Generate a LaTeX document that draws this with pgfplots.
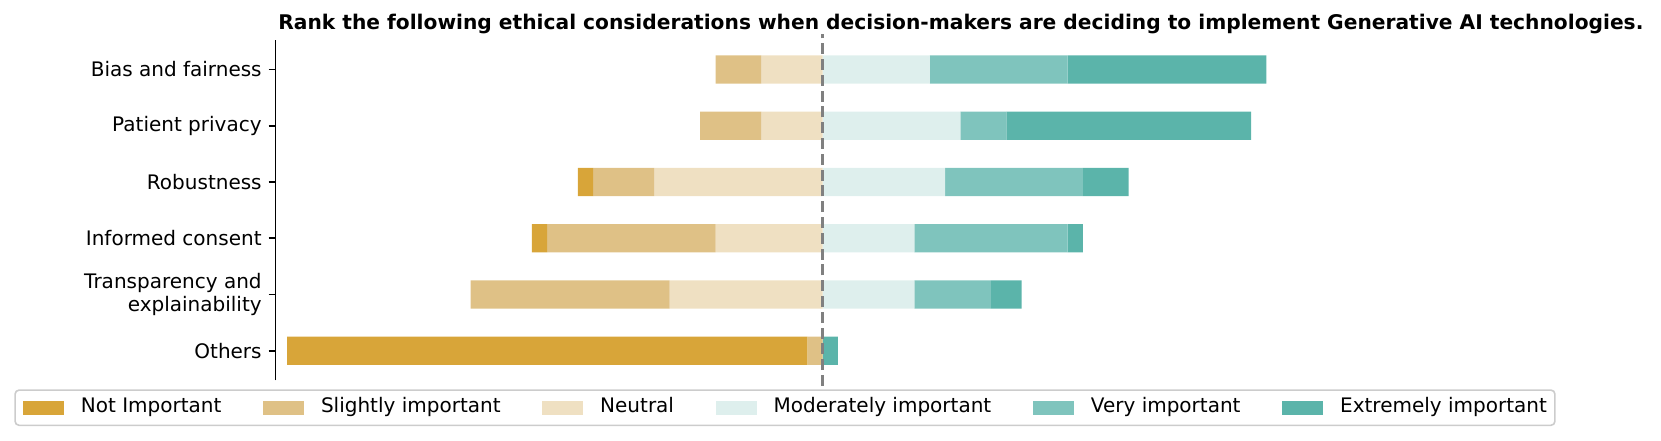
\documentclass[border=0pt]{standalone}
\usepackage{fontspec}
\setmainfont{DejaVu Sans}
\usepackage{pgfplots}
\pgfplotsset{compat=1.18}
\usepackage{pgfplotstable}

\definecolor{notimp}{HTML}{D8A539}
\definecolor{slight}{HTML}{DFC186}
\definecolor{neutral}{HTML}{EFE0C2}
\definecolor{moder}{HTML}{DEEFED}
\definecolor{veryimp}{HTML}{7FC4BD}
\definecolor{extrimp}{HTML}{5BB4AA}

% counts per answer (36 respondents); off = blank bar that centres the split at 35
\pgfplotstableread{
y off nimp slight neutral moder very extr
5 28 0  3  4 7  9 13
4 27 0  4  4 9  3 16
3 19 1  4 11 8  9  3
2 16 1 11  7 6 10  1
1 12 0 13 10 6  5  2
0  0 34 1  0 0  0  1
}\likert

\begin{document}
\begin{tikzpicture}
\useasboundingbox (-137.85pt,-29.85pt) rectangle (692.65pt,190.15pt);
\begin{axis}[
    at={(0,0)}, anchor=south west,
    scale only axis, width=685.15pt, height=170.2pt,
    xbar stacked, bar width=0.5,
    xmin=-0.74, xmax=88.8, ymin=-0.525, ymax=5.525,
    hide x axis,
    axis y line*=left,
    y axis line style={-, line width=0.8pt},
    ytick={0,...,5},
    yticklabels={Others,{Transparency and\\explainability},Informed consent,Robustness,Patient privacy,Bias and fairness},
    yticklabel style={align=right, font=\fontsize{10}{11.5}\selectfont},
    tick align=outside, major tick length=3.5pt,
    tick style={black, line width=0.8pt},
    clip=false,
    title={Rank the following ethical considerations when decision-makers are deciding to implement Generative AI technologies.},
    every axis title shift=0pt,
    title style={font=\fontsize{10.1}{12}\selectfont\bfseries, at={(0.5,1)}, anchor=base, yshift=5pt},
    legend columns=6,
    legend image code/.code={\fill[#1, sharp corners] (0pt,-3.5pt) rectangle (20.5pt,3.5pt);},
    legend style={at={(0,0)}, anchor=north west, xshift=-130.7pt, yshift=-4.5pt,
        draw=black!20, rounded corners=2pt, line width=0.8pt,
        inner xsep=4pt, inner ysep=3.9pt, font=\fontsize{10}{12}\selectfont,
        nodes={inner sep=0pt, text height=7.5pt, text depth=2.3pt, anchor=west},
        /tikz/every odd column/.append style={column sep=8.4pt},
        /tikz/every even column/.append style={column sep=20.9pt}},
]
\draw[black!50, line width=1.5pt, dash pattern=on 5.5pt off 2.4pt] (axis cs:35,-0.625) -- (axis cs:35,5.625);
\addplot[fill=none, draw=none, forget plot] table[x=off, y=y]{\likert};
\addplot[fill=notimp, draw=none] table[x=nimp, y=y]{\likert};
\addplot[fill=slight, draw=none] table[x=slight, y=y]{\likert};
\addplot[fill=neutral, draw=none] table[x=neutral, y=y]{\likert};
\addplot[fill=moder, draw=none] table[x=moder, y=y]{\likert};
\addplot[fill=veryimp, draw=none] table[x=very, y=y]{\likert};
\addplot[fill=extrimp, draw=none] table[x=extr, y=y]{\likert};
\legend{Not Important,Slightly important,Neutral,Moderately important,Very important,Extremely important}
\end{axis}
\end{tikzpicture}
\end{document}
